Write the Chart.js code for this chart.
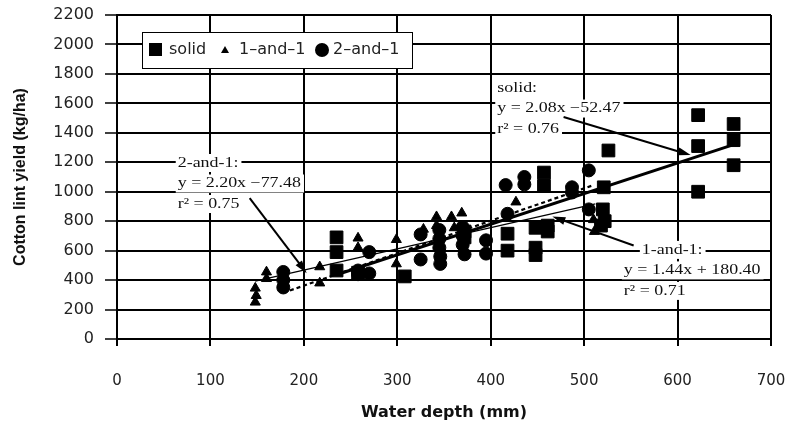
<!DOCTYPE html>
<html>
<head>
<meta charset="utf-8">
<title>Cotton lint yield vs water depth</title>
<script src="https://cdn.jsdelivr.net/npm/chart.js@4.4.1/dist/chart.umd.min.js"></script>
<style>
  html, body { margin: 0; padding: 0; background: #fff; }
  #chart { display: block; }
</style>
</head>
<body>
<canvas id="chart" width="790" height="427"></canvas>
<script>
// ---- data ----
const seriesNames = ['solid', '1\u2013and\u20131', '2\u2013and\u20131'];

const depthTicks = [0, 100, 200, 300, 400, 500, 600, 700];
const yieldTicks = [0, 200, 400, 600, 800, 1000, 1200, 1400, 1600, 1800, 2000, 2200];

// solid (squares)
const solidDepth = [235, 235, 235, 258, 308, 372, 372, 418, 418, 448, 448, 448, 457, 457, 461, 461, 520, 521, 522, 518, 526, 622, 622, 622, 660, 660, 660];
const solidYield = [690, 590, 465, 450, 425, 730, 690, 715, 600, 755, 620, 570, 1130, 1040, 770, 730, 880, 1030, 800, 770, 1280, 1520, 1310, 1000, 1460, 1350, 1180];

// 1-and-1 (triangles)
const oneOneDepth = [148, 149, 148, 160, 160, 217, 217, 258, 258, 299, 299, 328, 342, 342, 358, 361, 369, 427, 510, 511];
const oneOneYield = [345, 295, 250, 455, 410, 490, 380, 685, 620, 675, 510, 745, 830, 770, 830, 755, 855, 930, 810, 730];

// 2-and-1 (circles)
const twoOneDepth = [178, 178, 178, 258, 258, 270, 270, 325, 325, 345, 345, 345, 346, 346, 370, 370, 370, 372, 395, 395, 416, 418, 436, 436, 487, 487, 505, 505];
const twoOneYield = [455, 400, 350, 465, 440, 445, 590, 710, 540, 740, 680, 620, 560, 510, 760, 700, 640, 575, 670, 580, 1045, 850, 1100, 1050, 1030, 995, 1145, 880];

// fitted lines, ends as drawn (solid, 1-and-1, 2-and-1)
const trendDepth = [[235, 660], [148, 512], [178, 510]];
const trendYield = [[436, 1320], [393, 918], [314, 1045]];

// equation labels
const noteText = [
    ['solid:', 'y = 2.08x \u221252.47', 'r\u00b2 = 0.76'],
    ['2-and-1:', 'y = 2.20x \u221277.48', 'r\u00b2 = 0.75'],
    ['1-and-1:', 'y = 1.44x + 180.40', 'r\u00b2 = 0.71']
];

// ---- label placement (data units) ----
const noteAt = [[407, 1704], [65, 1195], [542.5, 605]];
const noteIndent = [0, 0, 18];
const arrowFrom = [[478, 1507], [142, 956], [553, 635]];
const arrowTo = [[614, 1249], [203, 447], [466, 831]];

const pts = (xs, ys) => xs.map((x, i) => ({ x: x, y: ys[i] }));

function drawArrow(ctx, x1, y1, x2, y2) {
    const ang = Math.atan2(y2 - y1, x2 - x1);
    const c = Math.cos(ang), s = Math.sin(ang);
    const head = 13, half = 4;
    ctx.strokeStyle = '#000';
    ctx.fillStyle = '#000';
    ctx.lineWidth = 2;
    ctx.beginPath();
    ctx.moveTo(x1, y1);
    ctx.lineTo(x2 - c * head * 0.7, y2 - s * head * 0.7);
    ctx.stroke();
    ctx.beginPath();
    ctx.moveTo(x2, y2);
    ctx.lineTo(x2 - head * c + half * s, y2 - head * s - half * c);
    ctx.lineTo(x2 - head * c - half * s, y2 - head * s + half * c);
    ctx.closePath();
    ctx.fill();
}

// Equation boxes + arrows
const notesPlugin = {
    id: 'notes',
    afterDatasetsDraw(chart) {
        const ctx = chart.ctx;
        const xs = chart.scales.x, ys = chart.scales.y;
        const stretch = 1.28;
        ctx.save();
        ctx.font = '14px "Liberation Serif", "Times New Roman", serif';
        ctx.textBaseline = 'middle';
        noteText.forEach((lines, i) => {
            const left = xs.getPixelForValue(noteAt[i][0]);
            const top = ys.getPixelForValue(noteAt[i][1]);
            lines.forEach((t, j) => {
                const lx = left + (j === 0 ? noteIndent[i] : 0);
                const ly = top + j * 20.5;
                const w = ctx.measureText(t).width * stretch;
                ctx.fillStyle = '#fff';
                ctx.fillRect(lx - 2, ly - 9, w + 5, 18);
                ctx.fillStyle = '#111';
                ctx.save();
                ctx.translate(lx, ly);
                ctx.scale(stretch, 1);
                ctx.fillText(t, 0, 0);
                ctx.restore();
            });
            drawArrow(ctx,
                xs.getPixelForValue(arrowFrom[i][0]), ys.getPixelForValue(arrowFrom[i][1]),
                xs.getPixelForValue(arrowTo[i][0]), ys.getPixelForValue(arrowTo[i][1]));
        });
        ctx.restore();
    }
};

// Legend box sitting inside the plot, top left
const legendPlugin = {
    id: 'legendBox',
    afterDatasetsDraw(chart) {
        const ctx = chart.ctx, a = chart.chartArea;
        const x = a.left + 25, y = a.top + 17, w = 270, h = 36;
        const cy = y + 18;
        ctx.save();
        ctx.fillStyle = '#fff';
        ctx.fillRect(x, y, w, h);
        ctx.strokeStyle = '#000';
        ctx.lineWidth = 1;
        ctx.strokeRect(x + 0.5, y + 0.5, w, h);

        ctx.fillStyle = '#000';
        // square
        ctx.fillRect(x + 7, cy - 7, 13, 13);
        // small triangle
        ctx.beginPath();
        ctx.moveTo(x + 83, cy - 4);
        ctx.lineTo(x + 87, cy + 3);
        ctx.lineTo(x + 79, cy + 3);
        ctx.closePath();
        ctx.fill();
        // circle
        ctx.beginPath();
        ctx.arc(x + 180, cy, 7, 0, Math.PI * 2);
        ctx.fill();

        ctx.fillStyle = '#222';
        ctx.font = '16px "DejaVu Sans", sans-serif';
        ctx.textBaseline = 'middle';
        ctx.fillText(seriesNames[0], x + 27, cy);
        ctx.fillText(seriesNames[1], x + 97, cy);
        ctx.fillText(seriesNames[2], x + 191, cy);
        ctx.restore();
    }
};

const trendStyle = [
    { borderWidth: 3, borderDash: [] },
    { borderWidth: 1.2, borderDash: [] },
    { borderWidth: 2.2, borderDash: [4, 3] }
];

const trendSets = trendDepth.map((xs, i) => ({
    label: 'fit ' + i,
    data: pts(xs, trendYield[i]),
    showLine: true,
    pointRadius: 0,
    borderColor: '#000',
    borderWidth: trendStyle[i].borderWidth,
    borderDash: trendStyle[i].borderDash,
    fill: false
}));

const ctx = document.getElementById('chart').getContext('2d');
new Chart(ctx, {
    type: 'scatter',
    data: {
        datasets: trendSets.concat([
            {
                label: seriesNames[1],
                data: pts(oneOneDepth, oneOneYield),
                pointStyle: 'triangle',
                pointRadius: 5.8,
                backgroundColor: '#000',
                borderColor: '#000',
                borderWidth: 1
            },
            {
                label: seriesNames[2],
                data: pts(twoOneDepth, twoOneYield),
                pointStyle: 'circle',
                pointRadius: 6.5,
                backgroundColor: '#000',
                borderColor: '#000',
                borderWidth: 1
            },
            {
                label: seriesNames[0],
                data: pts(solidDepth, solidYield),
                pointStyle: 'rect',
                pointRadius: 9,
                backgroundColor: '#000',
                borderColor: '#000',
                borderWidth: 1
            }
        ])
    },
    options: {
        responsive: false,
        devicePixelRatio: 1,
        animation: false,
        events: [],
        layout: {
            padding: { top: 15, right: 19, left: 0, bottom: 0 }
        },
        plugins: {
            legend: { display: false },
            tooltip: { enabled: false }
        },
        scales: {
            x: {
                type: 'linear',
                min: depthTicks[0],
                max: depthTicks[depthTicks.length - 1],
                afterBuildTicks: s => { s.ticks = depthTicks.map(v => ({ value: v })); },
                afterFit: s => {
                    s.height = 88;
                    s.paddingLeft = 0;
                    s.paddingRight = 0;
                },
                ticks: {
                    color: '#222',
                    font: { family: '"DejaVu Sans", sans-serif', size: 15 },
                    padding: 26,
                    callback: v => String(v)
                },
                grid: { color: '#000', lineWidth: 2, tickLength: 7 },
                border: { color: '#000', width: 2 },
                title: {
                    display: true,
                    text: 'Water depth (mm)',
                    color: '#111',
                    font: { family: '"DejaVu Sans", sans-serif', size: 16, weight: 'bold' },
                    padding: { top: 0, bottom: 5 }
                }
            },
            y: {
                type: 'linear',
                min: yieldTicks[0],
                max: yieldTicks[yieldTicks.length - 1],
                afterBuildTicks: s => { s.ticks = yieldTicks.map(v => ({ value: v })); },
                afterFit: s => {
                    s.width = 117;
                    s.paddingTop = 0;
                    s.paddingBottom = 0;
                },
                ticks: {
                    color: '#222',
                    font: { family: '"DejaVu Sans", sans-serif', size: 16 },
                    padding: 11,
                    callback: v => String(v)
                },
                grid: { color: '#000', lineWidth: 2, tickLength: 12, tickWidth: 1.5 },
                border: { color: '#000', width: 2 },
                title: {
                    display: true,
                    text: 'Cotton lint yield (kg/ha)',
                    color: '#111',
                    font: { family: '"Liberation Sans", Arial, sans-serif', size: 16, weight: 'bold' },
                    padding: { top: 11, bottom: 0 }
                }
            }
        }
    },
    plugins: [legendPlugin, notesPlugin]
});
</script>
</body>
</html>
